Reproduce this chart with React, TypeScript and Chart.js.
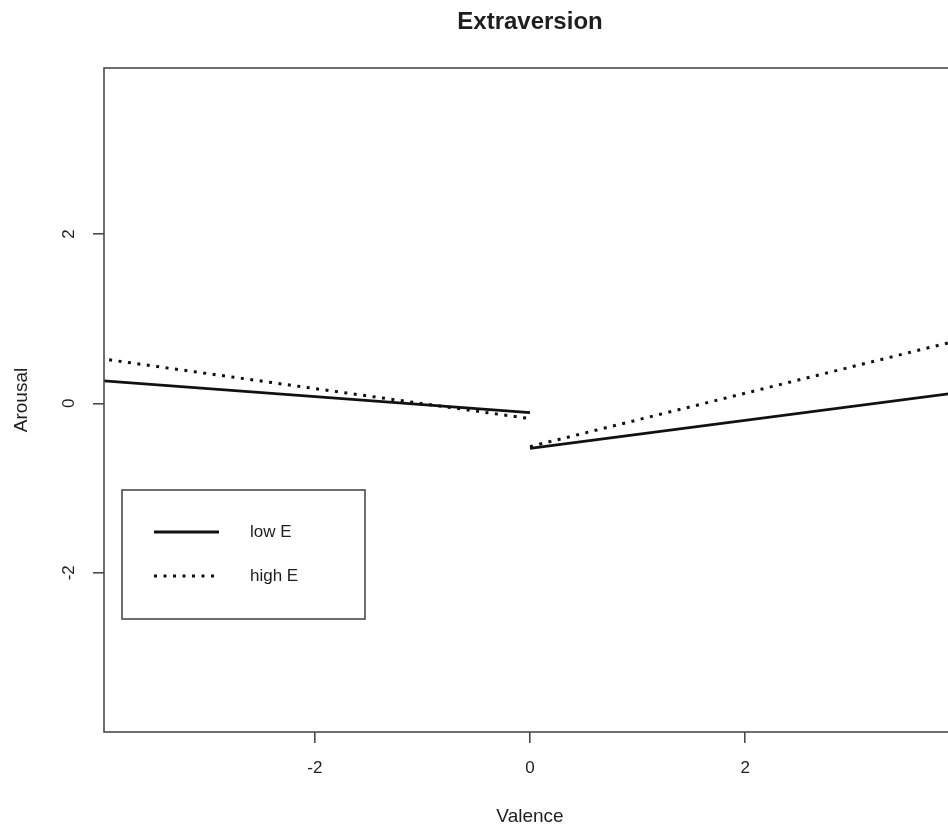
import React, { useEffect, useRef } from "react";
import { Chart, registerables } from "chart.js";

Chart.register(...registerables);

// ---- data ----
const titleText = "Extraversion";
const xTitle = "Valence";
const yTitle = "Arousal";
const xTicks = [-2, 0, 2];
const yTicks = [-2, 0, 2];
const xRange = [-3.96, 3.96];
const yRange = [-3.88, 3.96];
const leftX = [-4, 0];
const rightX = [0, 4];
const lowELeft = [0.27, -0.11];
const lowERight = [-0.53, 0.13];
const highELeft = [0.53, -0.18];
const highERight = [-0.51, 0.75];
const legendLabels = ["low E", "high E"];

const FONT = "'Liberation Sans', Arial, sans-serif";
const INK = "#1e1e1e";
const AXIS = "#4a4a4a";
const DOT = [3, 6.5];

const pts = (xs: number[], ys: number[]) => xs.map((x, i) => ({ x, y: ys[i] }));

const decor = {
  id: "decor",
  afterDraw(chart: any) {
    const { ctx, chartArea: a } = chart;
    const ys = chart.scales.y;
    ctx.save();
    // box
    ctx.strokeStyle = AXIS;
    ctx.lineWidth = 1.6;
    ctx.strokeRect(a.left, a.top, a.right - a.left, a.bottom - a.top);
    ctx.fillStyle = INK;
    // title
    ctx.font = `bold 24px ${FONT}`;
    ctx.textAlign = "center";
    ctx.textBaseline = "middle";
    ctx.fillText(titleText, (a.left + a.right) / 2, 22);
    // x title
    ctx.font = `19px ${FONT}`;
    ctx.fillText(xTitle, (a.left + a.right) / 2, 817);
    // y title
    ctx.save();
    ctx.translate(22, (a.top + a.bottom) / 2);
    ctx.rotate(-Math.PI / 2);
    ctx.fillText(yTitle, 0, 0);
    ctx.restore();
    // y tick labels (rotated, R style)
    ctx.font = `17px ${FONT}`;
    yTicks.forEach((v) => {
      ctx.save();
      ctx.translate(69, ys.getPixelForValue(v));
      ctx.rotate(-Math.PI / 2);
      ctx.fillText(String(v), 0, 0);
      ctx.restore();
    });
    // legend
    ctx.strokeStyle = AXIS;
    ctx.lineWidth = 1.6;
    ctx.strokeRect(122, 490, 243, 129);
    const rows = [532, 576];
    const sets = [chart.data.datasets[0], chart.data.datasets[2]];
    rows.forEach((yy, i) => {
      const ds = sets[i];
      ctx.strokeStyle = ds.borderColor;
      ctx.lineWidth = ds.borderWidth;
      ctx.setLineDash(ds.borderDash || []);
      ctx.beginPath();
      ctx.moveTo(154, yy);
      ctx.lineTo(219, yy);
      ctx.stroke();
      ctx.setLineDash([]);
      ctx.fillStyle = INK;
      ctx.font = `17px ${FONT}`;
      ctx.textAlign = "left";
      ctx.textBaseline = "middle";
      ctx.fillText(legendLabels[i], 250, yy);
    });
    ctx.restore();
  },
};

export default function App() {
  const ref = useRef<HTMLCanvasElement>(null);
  useEffect(() => {
    if (!ref.current) return;
    const solid = { borderColor: "#111", borderWidth: 2.8, pointRadius: 0, fill: false, tension: 0 };
    const dotted = { ...solid, borderWidth: 3, borderDash: DOT, borderCapStyle: "butt" };
    const chart = new Chart(ref.current, {
      type: "line",
      data: {
        datasets: [
          { label: legendLabels[0], data: pts(leftX, lowELeft), ...solid },
          { label: legendLabels[0], data: pts(rightX, lowERight), ...solid },
          { label: legendLabels[1], data: pts(leftX, highELeft), ...dotted },
          { label: legendLabels[1], data: pts(rightX, highERight), ...dotted },
        ] as any,
      },
      options: {
        animation: false,
        responsive: false,
        layout: { padding: { left: 0, top: 68, right: 44, bottom: 0 } },
        plugins: { legend: { display: false }, title: { display: false }, tooltip: { enabled: false } },
        scales: {
          x: {
            type: "linear",
            min: xRange[0],
            max: xRange[1],
            border: { display: false },
            grid: { drawOnChartArea: false, drawTicks: true, tickLength: 11, color: AXIS, lineWidth: 1.6 },
            ticks: { color: INK, font: { family: FONT, size: 17 }, padding: 15, maxRotation: 0 },
            afterBuildTicks: (s: any) => { s.ticks = xTicks.map((v) => ({ value: v })); },
            afterFit: (s: any) => { s.height = 97; },
          },
          y: {
            type: "linear",
            min: yRange[0],
            max: yRange[1],
            border: { display: false },
            grid: { drawOnChartArea: false, drawTicks: true, tickLength: 11, color: AXIS, lineWidth: 1.6 },
            ticks: { display: false },
            afterBuildTicks: (s: any) => { s.ticks = yTicks.map((v) => ({ value: v })); },
            afterFit: (s: any) => { s.width = 104; },
          },
        },
      } as any,
      plugins: [decor],
    });
    return () => chart.destroy();
  }, []);
  return (
    <div style={{ position: "fixed", left: 0, top: 0, width: 948, height: 829, overflow: "hidden", background: "#fff" }}>
      <canvas ref={ref} width={1000} height={829} style={{ display: "block" }} />
    </div>
  );
}
